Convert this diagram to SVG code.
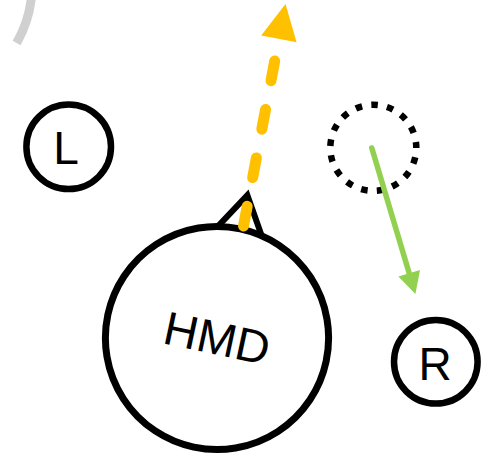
<svg xmlns="http://www.w3.org/2000/svg" width="483" height="454" viewBox="0 0 483 454">
<style>
.node{fill:#ffffff;stroke:#000000;stroke-width:6.5}
.lbl{font-family:"Liberation Sans",Arial,sans-serif;font-size:46px;fill:#000000;text-anchor:middle}
</style>
<defs>
<marker id="headY" markerUnits="userSpaceOnUse" orient="auto" refX="0" refY="0" markerWidth="40" markerHeight="40" viewBox="0 -20 40 40" overflow="visible">
<path d="M0,-18 L35.5,0 L0,18 Z" fill="#FFC000"/>
</marker>
<marker id="headG" markerUnits="userSpaceOnUse" orient="auto" refX="0" refY="0" markerWidth="26" markerHeight="26" viewBox="0 -13 26 26" overflow="visible">
<path d="M0,-11.3 L21.7,0 L0,11.3 Z" fill="#92D050"/>
</marker>
</defs>
<rect width="483" height="454" fill="#ffffff"/>
<g id="arc">
<path d="M31.5,-3 A117 117 0 0 1 16.6,43" fill="none" stroke="#D0D0D0" stroke-width="9"/>
</g>
<g id="node-L">
<circle class="node" cx="68.7" cy="146.8" r="42.3"/>
<text class="lbl" x="66" y="164">L</text>
</g>
<g id="node-R">
<circle class="node" cx="435.8" cy="361.8" r="41.8"/>
<text class="lbl" x="435" y="380">R</text>
</g>
<g id="node-target">
<circle cx="373.3" cy="147.8" r="43" fill="none" stroke="#000000" stroke-width="6.5" stroke-dasharray="6.6 9.29" stroke-dashoffset="6.3"/>
</g>
<g id="node-HMD" transform="rotate(12 217 338)">
<polyline points="195,228 217,192 239,228" fill="#ffffff" stroke="#000000" stroke-width="6" stroke-linejoin="miter"/>
<circle cx="217" cy="338" r="111.6" fill="#ffffff" stroke="#000000" stroke-width="7"/>
<text class="lbl" x="217" y="354.5" style="font-size:47px">HMD</text>
</g>
<g id="connectors">
<line x1="243.5" y1="226" x2="278.9" y2="38.8" stroke="#FFC000" stroke-width="11" stroke-linecap="round" stroke-dasharray="20 29.3" marker-end="url(#headY)"/>
<line x1="371.8" y1="148" x2="409.2" y2="273.2" stroke="#92D050" stroke-width="5.5" stroke-linecap="round" marker-end="url(#headG)"/>
</g>
</svg>
